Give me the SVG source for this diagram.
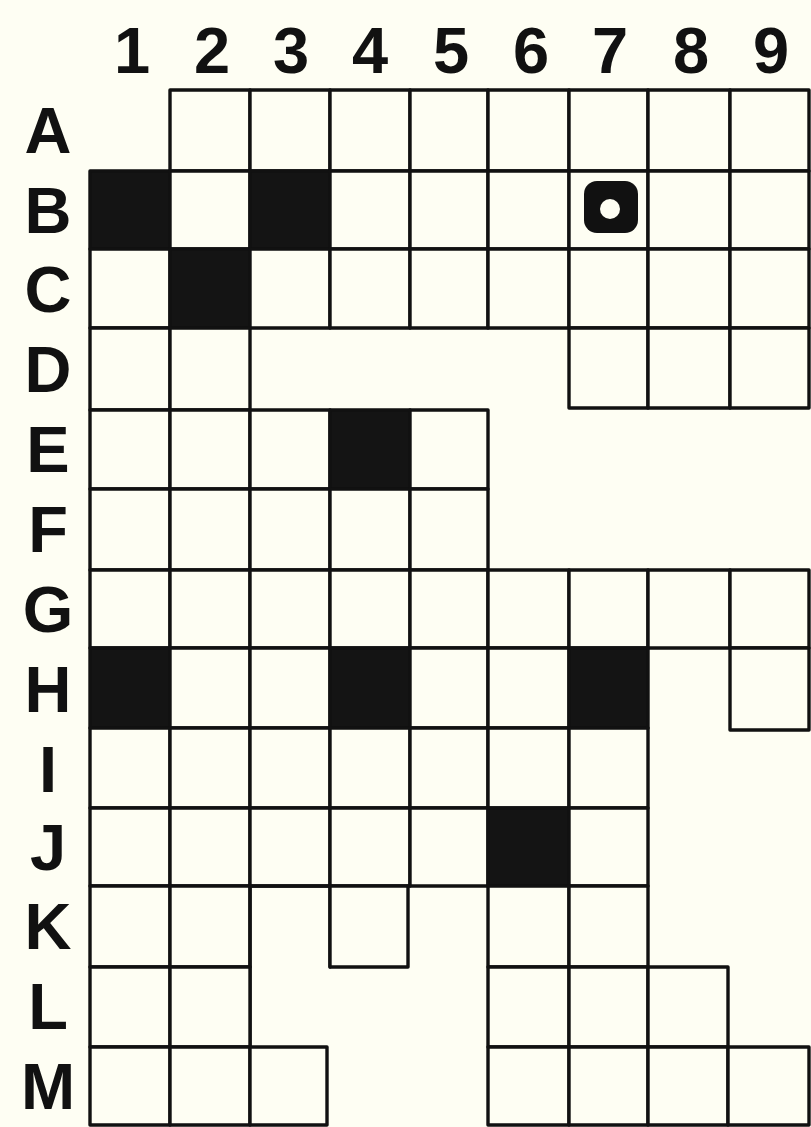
<svg xmlns="http://www.w3.org/2000/svg" width="811" height="1127" viewBox="0 0 811 1127">
<style>
.w{fill:#FEFEF3;stroke:#111;stroke-width:3.4;stroke-linejoin:round}
.b{fill:#141414;stroke:#111;stroke-width:3.4;stroke-linejoin:round}
.o{fill:none;stroke:#111;stroke-width:3.4;stroke-linejoin:round;stroke-linecap:round}
.lbl{font-family:"Liberation Sans",Arial,sans-serif;font-weight:bold;font-size:65px;fill:#111;text-anchor:middle}
</style>
<rect x="0" y="0" width="811" height="1127" fill="#FEFEF3"/>
<g id="col-labels" class="lbl">
<text x="132" y="73">1</text><text x="212" y="73">2</text><text x="291" y="73">3</text><text x="370" y="73">4</text><text x="451" y="73">5</text><text x="531" y="73">6</text><text x="610" y="73">7</text><text x="691" y="73">8</text><text x="771" y="73">9</text>
</g>
<g id="row-labels" class="lbl">
<text x="48" y="153">A</text><text x="48" y="233">B</text><text x="48" y="312">C</text><text x="48" y="392">D</text><text x="48" y="472">E</text><text x="48" y="552">F</text><text x="48" y="632">G</text><text x="48" y="712">H</text><text x="48" y="792">I</text><text x="48" y="870">J</text><text x="48" y="949">K</text><text x="48" y="1029">L</text><text x="48" y="1109">M</text>
</g>
<g id="row-A">
<rect class="w" x="170" y="90" width="80" height="81"/><rect class="w" x="250" y="90" width="80" height="81"/><rect class="w" x="330" y="90" width="80" height="81"/><rect class="w" x="410" y="90" width="78" height="81"/><rect class="w" x="488" y="90" width="81" height="81"/><rect class="w" x="569" y="90" width="79" height="81"/><rect class="w" x="648" y="90" width="82" height="81"/><rect class="w" x="730" y="90" width="79" height="81"/>
</g>
<g id="row-B">
<rect class="b" x="90" y="171" width="80" height="78"/><rect class="w" x="170" y="171" width="80" height="78"/><rect class="b" x="250" y="171" width="80" height="78"/><rect class="w" x="330" y="171" width="80" height="78"/><rect class="w" x="410" y="171" width="78" height="78"/><rect class="w" x="488" y="171" width="81" height="78"/><rect class="w" x="569" y="171" width="79" height="78"/><rect class="w" x="648" y="171" width="82" height="78"/><rect class="w" x="730" y="171" width="79" height="78"/>
<g id="B7-marker"><rect x="584" y="181" width="54" height="52" rx="13" fill="#111"/><circle cx="610" cy="209" r="10" fill="#FEFEF3"/></g>
</g>
<g id="row-C">
<rect class="w" x="90" y="249" width="80" height="79"/><rect class="b" x="170" y="249" width="80" height="79"/><rect class="w" x="250" y="249" width="80" height="79"/><rect class="w" x="330" y="249" width="80" height="79"/><rect class="w" x="410" y="249" width="78" height="79"/><rect class="w" x="488" y="249" width="81" height="79"/><rect class="w" x="569" y="249" width="79" height="79"/><rect class="w" x="648" y="249" width="82" height="79"/><rect class="w" x="730" y="249" width="79" height="79"/>
</g>
<g id="row-D">
<rect class="w" x="90" y="328" width="80" height="82"/><rect class="w" x="170" y="328" width="80" height="82"/><rect class="w" x="569" y="328" width="79" height="80"/><rect class="w" x="648" y="328" width="82" height="80"/><rect class="w" x="730" y="328" width="79" height="80"/>
</g>
<g id="row-E">
<rect class="w" x="90" y="410" width="80" height="79"/><rect class="w" x="170" y="410" width="80" height="79"/><rect class="w" x="250" y="410" width="80" height="79"/><rect class="b" x="330" y="410" width="80" height="79"/><rect class="w" x="410" y="410" width="78" height="79"/>
</g>
<g id="row-F">
<rect class="w" x="90" y="489" width="80" height="81"/><rect class="w" x="170" y="489" width="80" height="81"/><rect class="w" x="250" y="489" width="80" height="81"/><rect class="w" x="330" y="489" width="80" height="81"/><rect class="w" x="410" y="489" width="78" height="81"/>
</g>
<g id="row-G">
<rect class="w" x="90" y="570" width="80" height="78"/><rect class="w" x="170" y="570" width="80" height="78"/><rect class="w" x="250" y="570" width="80" height="78"/><rect class="w" x="330" y="570" width="80" height="78"/><rect class="w" x="410" y="570" width="78" height="78"/><rect class="w" x="488" y="570" width="81" height="78"/><rect class="w" x="569" y="570" width="79" height="78"/><rect class="w" x="648" y="570" width="82" height="78"/><rect class="w" x="730" y="570" width="79" height="78"/>
</g>
<g id="row-H">
<rect class="b" x="90" y="648" width="80" height="80"/><rect class="w" x="170" y="648" width="80" height="80"/><rect class="w" x="250" y="648" width="80" height="80"/><rect class="b" x="330" y="648" width="80" height="80"/><rect class="w" x="410" y="648" width="78" height="80"/><rect class="w" x="488" y="648" width="81" height="80"/><rect class="b" x="569" y="648" width="79" height="80"/><rect class="w" x="730" y="648" width="79" height="82"/>
</g>
<g id="row-I">
<rect class="w" x="90" y="728" width="80" height="80"/><rect class="w" x="170" y="728" width="80" height="80"/><rect class="w" x="250" y="728" width="80" height="80"/><rect class="w" x="330" y="728" width="80" height="80"/><rect class="w" x="410" y="728" width="78" height="80"/><rect class="w" x="488" y="728" width="81" height="80"/><rect class="w" x="569" y="728" width="79" height="80"/>
</g>
<g id="row-J">
<rect class="w" x="90" y="808" width="80" height="78"/><rect class="w" x="170" y="808" width="80" height="78"/><rect class="w" x="250" y="808" width="80" height="78"/><rect class="w" x="330" y="808" width="80" height="78"/><rect class="w" x="410" y="808" width="78" height="78"/><rect class="b" x="488" y="808" width="81" height="78"/><rect class="w" x="569" y="808" width="79" height="78"/>
</g>
<g id="row-K">
<rect class="w" x="90" y="886" width="80" height="81"/><rect class="w" x="170" y="886" width="80" height="81"/><path class="o" d="M250 1047 V886 H330 V967"/><rect class="w" x="330" y="886" width="78" height="81"/><rect class="w" x="488" y="886" width="81" height="81"/><rect class="w" x="569" y="886" width="79" height="81"/>
</g>
<g id="row-L">
<rect class="w" x="90" y="967" width="80" height="80"/><rect class="w" x="170" y="967" width="80" height="80"/><rect class="w" x="488" y="967" width="81" height="80"/><rect class="w" x="569" y="967" width="79" height="80"/><rect class="w" x="648" y="967" width="80" height="80"/>
</g>
<g id="row-M">
<rect class="w" x="90" y="1047" width="80" height="78"/><rect class="w" x="170" y="1047" width="80" height="78"/><rect class="w" x="250" y="1047" width="77" height="78"/><rect class="w" x="488" y="1047" width="81" height="78"/><rect class="w" x="569" y="1047" width="79" height="78"/><rect class="w" x="648" y="1047" width="80" height="78"/><rect class="w" x="728" y="1047" width="81" height="78"/>
</g>
</svg>
